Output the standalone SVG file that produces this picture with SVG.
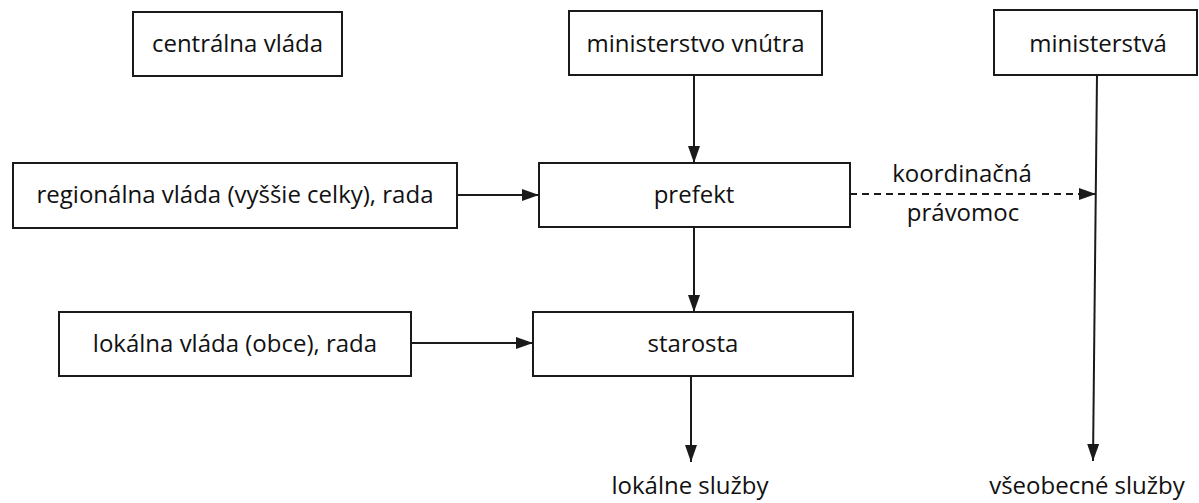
<svg xmlns="http://www.w3.org/2000/svg" width="1199" height="503" viewBox="0 0 1199 503">
  <style>
    .box { fill: #ffffff; stroke: #1a1a1a; stroke-width: 2; }
    .lbl { font-family: "Open Sans", "Liberation Sans", sans-serif; font-size: 24px; fill: #111111; text-anchor: middle; }
    .edge { fill: none; stroke: #1a1a1a; stroke-width: 2; }
    .dash { stroke-dasharray: 7 5; }
  </style>
  <defs>
    <marker id="arrow" markerUnits="userSpaceOnUse" markerWidth="17" markerHeight="12" refX="17" refY="6" orient="auto">
      <path d="M0,0 L17,6 L0,12 z" fill="#1a1a1a"/>
    </marker>
  </defs>
  <rect width="1199" height="503" fill="#ffffff"/>

  <g id="centralna-vlada">
    <rect class="box" x="133" y="12" width="209" height="64"/>
    <text class="lbl" x="237.5" y="52">centrálna vláda</text>
  </g>
  <g id="ministerstvo-vnutra">
    <rect class="box" x="569" y="11" width="253" height="64"/>
    <text class="lbl" x="695.5" y="52">ministerstvo vnútra</text>
  </g>
  <g id="ministerstva">
    <rect class="box" x="994" y="10" width="203" height="65"/>
    <text class="lbl" x="1098" y="52">ministerstvá</text>
  </g>
  <g id="regionalna-vlada">
    <rect class="box" x="13" y="163" width="444" height="65"/>
    <text class="lbl" x="235" y="203">regionálna vláda (vyššie celky), rada</text>
  </g>
  <g id="prefekt">
    <rect class="box" x="539" y="163" width="311" height="64"/>
    <text class="lbl" x="694" y="203">prefekt</text>
  </g>
  <g id="lokalna-vlada">
    <rect class="box" x="59" y="312" width="352" height="64"/>
    <text class="lbl" x="235" y="352">lokálna vláda (obce), rada</text>
  </g>
  <g id="starosta">
    <rect class="box" x="533" y="312" width="320" height="64"/>
    <text class="lbl" x="693" y="352">starosta</text>
  </g>
  <g id="lokalne-sluzby">
    <text class="lbl" x="690" y="494">lokálne služby</text>
  </g>
  <g id="vseobecne-sluzby">
    <text class="lbl" x="1087" y="494">všeobecné služby</text>
  </g>

  <g id="connectors">
    <line class="edge" x1="694" y1="75" x2="694" y2="163" marker-end="url(#arrow)"/>
    <line class="edge" x1="457" y1="195" x2="539" y2="195" marker-end="url(#arrow)"/>
    <line class="edge" x1="694" y1="227" x2="694" y2="312" marker-end="url(#arrow)"/>
    <line class="edge" x1="411" y1="343" x2="533" y2="343" marker-end="url(#arrow)"/>
    <line class="edge" x1="691" y1="376" x2="691" y2="462" marker-end="url(#arrow)"/>
    <line class="edge dash" x1="850" y1="194" x2="1096" y2="194" marker-end="url(#arrow)"/>
    <line class="edge" x1="1097" y1="75" x2="1093" y2="461" marker-end="url(#arrow)"/>
    <text class="lbl" x="962" y="182">koordinačná</text>
    <text class="lbl" x="963" y="221">právomoc</text>
  </g>
</svg>
